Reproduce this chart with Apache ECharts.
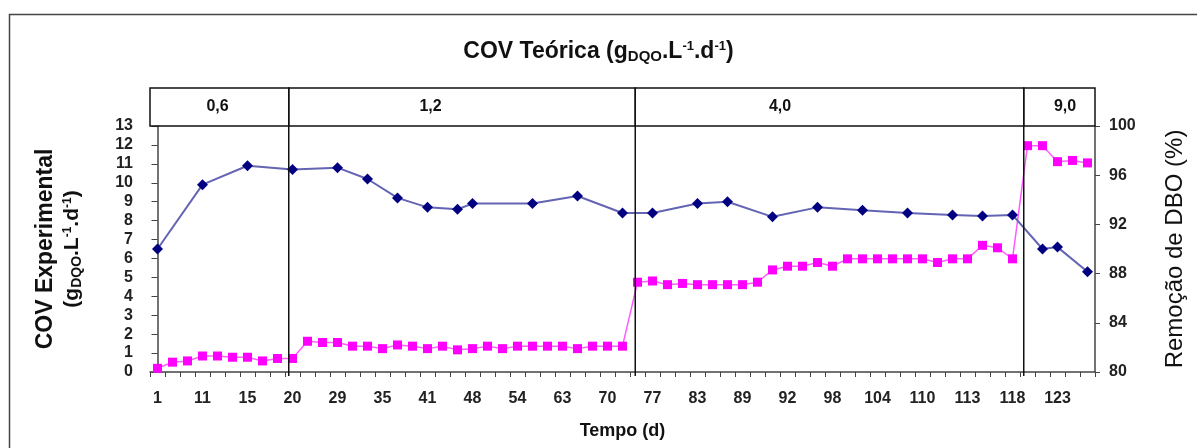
<!DOCTYPE html>
<html><head><meta charset="utf-8">
<script src="https://cdn.jsdelivr.net/npm/echarts@6/dist/echarts.min.js"></script>
<style>html,body{margin:0;padding:0;background:#fff}#c{width:1197px;height:448px}</style>
</head><body><div id="c"></div>
<script>
// Tick labels (Tempo, d) — one label every 3 categories
const tickLabels = ['1','11','15','20','29','35','41','48','54','63','70','77','83','89','92','98','104','110','113','118','123'];
const labelEvery = 3;

// COV Experimental (gDQO.L-1.d-1) — left axis, measured only on some days
const covExperimental = [
  6.5, null, null, 9.9, null, null, 10.9, null, null, 10.7,
  null, null, 10.8, null, 10.2, null, 9.2, null, 8.7, null,
  8.6, 8.9, null, null, null, 8.9, null, null, 9.3, null,
  null, 8.4, null, 8.4, null, null, 8.9, null, 9.0, null,
  null, 8.2, null, null, 8.7, null, null, 8.55, null, null,
  8.4, null, null, 8.3, null, 8.25, null, 8.3, null, 6.5,
  6.6, null, 5.3
];

// Remoção de DBO (%) — right axis
const remocaoDBO = [
  80.3, 80.8, 80.9, 81.3, 81.3, 81.2, 81.2, 80.9, 81.1, 81.1,
  82.5, 82.4, 82.4, 82.1, 82.1, 81.9, 82.2, 82.1, 81.9, 82.1,
  81.8, 81.9, 82.1, 81.9, 82.1, 82.1, 82.1, 82.1, 81.9, 82.1,
  82.1, 82.1, 87.3, 87.4, 87.1, 87.2, 87.1, 87.1, 87.1, 87.1,
  87.3, 88.3, 88.6, 88.6, 88.9, 88.6, 89.2, 89.2, 89.2, 89.2,
  89.2, 89.2, 88.9, 89.2, 89.2, 90.3, 90.1, 89.2, 98.4, 98.4,
  97.1, 97.2, 97.0
];

// COV Teórica phases (in category-index units)
const phaseLabels = ['0,6', '1,2', '4,0', '9,0'];
const phaseBounds = [-0.5, 8.75, 31.85, 57.75, 62.5];
const phaseLabelAt = [4.0, 18.2, 41.5, 60.5];

const N = remocaoDBO.length;
const categories = [];
for (let i = 0; i < N; i++) categories.push(i % labelEvery === 0 ? tickLabels[i / labelEvery] : '');

const FF = '"Liberation Sans", Arial, sans-serif';
const chart = echarts.init(document.getElementById('c'), null, {renderer: 'canvas'});

const phaseData = phaseLabels.map((l, i) => [phaseBounds[i], phaseBounds[i + 1], phaseLabelAt[i]]);
const dividerData = phaseBounds.slice(1, -1).map(v => [v]);

chart.setOption({
  animation: false,
  backgroundColor: '#fff',
  graphic: [
    {type: 'rect', left: 7, top: 12, shape: {width: 1400, height: 600}, style: {fill: 'none', stroke: '#444', lineWidth: 1.5}, silent: true}
  ],
  title: {
    left: 'center', top: 34,
    text: '{a|COV Teórica (g}{sub|DQO}{a|.L}{sup|-1}{a|.d}{sup|-1}{a|)}',
    textStyle: {
      rich: {
        a: {fontSize: 23, fontWeight: 'bold', fontFamily: FF, color: '#111'},
        sub: {fontSize: 15, fontWeight: 'bold', fontFamily: FF, color: '#111', padding: [10, 0, 0, 0]},
        sup: {fontSize: 13, fontWeight: 'bold', fontFamily: FF, color: '#111', padding: [0, 0, 11, 0]}
      }
    }
  },
  grid: [
    {left: 150, right: 102, top: 126, bottom: 76, containLabel: false},
    {left: 150, right: 102, top: 88, height: 38, containLabel: false}
  ],
  xAxis: [
    {
      type: 'category', gridIndex: 0, data: categories, boundaryGap: true,
      axisLine: {lineStyle: {color: '#444', width: 1.5}},
      axisTick: {show: true, interval: 0, length: 5, lineStyle: {color: '#444'}},
      axisLabel: {interval: 0, margin: 19, fontSize: 16, fontWeight: 'bold', fontFamily: FF, color: '#222'},
      name: 'Tempo (d)', nameLocation: 'middle', nameGap: 50,
      nameTextStyle: {fontSize: 18, fontWeight: 'bold', fontFamily: FF, color: '#111'}
    },
    {type: 'value', gridIndex: 0, min: -0.5, max: N - 0.5, show: false},
    {type: 'value', gridIndex: 1, min: -0.5, max: N - 0.5, show: false}
  ],
  yAxis: [
    {
      type: 'value', gridIndex: 0, position: 'left', min: 0, max: 13, interval: 1,
      splitLine: {show: false},
      axisLine: {show: true, lineStyle: {color: '#444', width: 1.5}},
      axisTick: {show: true, length: 6, lineStyle: {color: '#444'}},
      axisLabel: {margin: 17, fontSize: 16, fontWeight: 'bold', fontFamily: FF, color: '#222'},
      name: '{a|COV Experimental}\n{b|(g}{s|DQO}{b|.L}{p|-1}{b|.d}{p|-1}{b|)}',
      nameLocation: 'middle', nameRotate: 90, nameGap: 64,
      nameTextStyle: {
        rich: {
          a: {fontSize: 23, fontWeight: 'bold', fontFamily: FF, color: '#111', lineHeight: 27},
          b: {fontSize: 21, fontWeight: 'bold', fontFamily: FF, color: '#111', lineHeight: 27},
          s: {fontSize: 14, fontWeight: 'bold', fontFamily: FF, color: '#111', padding: [9, 0, 0, 0]},
          p: {fontSize: 12, fontWeight: 'bold', fontFamily: FF, color: '#111', padding: [0, 0, 10, 0]}
        }
      }
    },
    {
      type: 'value', gridIndex: 0, position: 'right', min: 80, max: 100, interval: 4,
      splitLine: {show: false},
      axisLine: {show: true, lineStyle: {color: '#444', width: 1.5}},
      axisTick: {show: true, length: 5, lineStyle: {color: '#444'}},
      axisLabel: {margin: 14, fontSize: 16, fontWeight: 'bold', fontFamily: FF, color: '#222'},
      name: 'Remoção de DBO (%)', nameLocation: 'middle', nameRotate: 90, nameGap: 68,
      nameTextStyle: {fontSize: 24, fontFamily: FF, color: '#111'}
    },
    {type: 'value', gridIndex: 1, min: 0, max: 1, show: false}
  ],
  series: [
    {
      name: 'Remoção de DBO', type: 'line', xAxisIndex: 0, yAxisIndex: 1, data: remocaoDBO,
      symbol: 'rect', symbolSize: 9, showAllSymbol: true,
      itemStyle: {color: '#ff00ff'}, lineStyle: {color: '#ff5cff', width: 1.5}, z: 3
    },
    {
      name: 'COV Experimental', type: 'line', xAxisIndex: 0, yAxisIndex: 0, data: covExperimental,
      connectNulls: true, symbol: 'diamond', symbolSize: [11, 11], showAllSymbol: true,
      itemStyle: {color: '#000080'}, lineStyle: {color: '#6464b4', width: 2}, z: 4
    },
    {
      type: 'custom', xAxisIndex: 1, yAxisIndex: 0, data: dividerData, z: 5, silent: true,
      renderItem: function (params, api) {
        const a = api.coord([api.value(0), 0]);
        const b = api.coord([api.value(0), 13]);
        return {type: 'line', shape: {x1: a[0], y1: a[1] + 4, x2: b[0], y2: b[1]}, style: {stroke: '#111', lineWidth: 1.5}};
      }
    },
    {
      type: 'custom', xAxisIndex: 2, yAxisIndex: 2, data: phaseData, z: 5, silent: true,
      renderItem: function (params, api) {
        const s = api.coord([api.value(0), 1]);
        const e = api.coord([api.value(1), 0]);
        const t = api.coord([api.value(2), 0.5]);
        return {type: 'group', children: [
          {type: 'rect', shape: {x: s[0], y: s[1], width: e[0] - s[0], height: e[1] - s[1]}, style: {fill: 'none', stroke: '#111', lineWidth: 1.5}},
          {type: 'text', x: t[0], y: t[1], style: {text: phaseLabels[params.dataIndex], fontSize: 16, fontWeight: 'bold', fontFamily: FF, fill: '#111', align: 'center', verticalAlign: 'middle'}}
        ]};
      }
    }
  ]
});
</script>
</body></html>
